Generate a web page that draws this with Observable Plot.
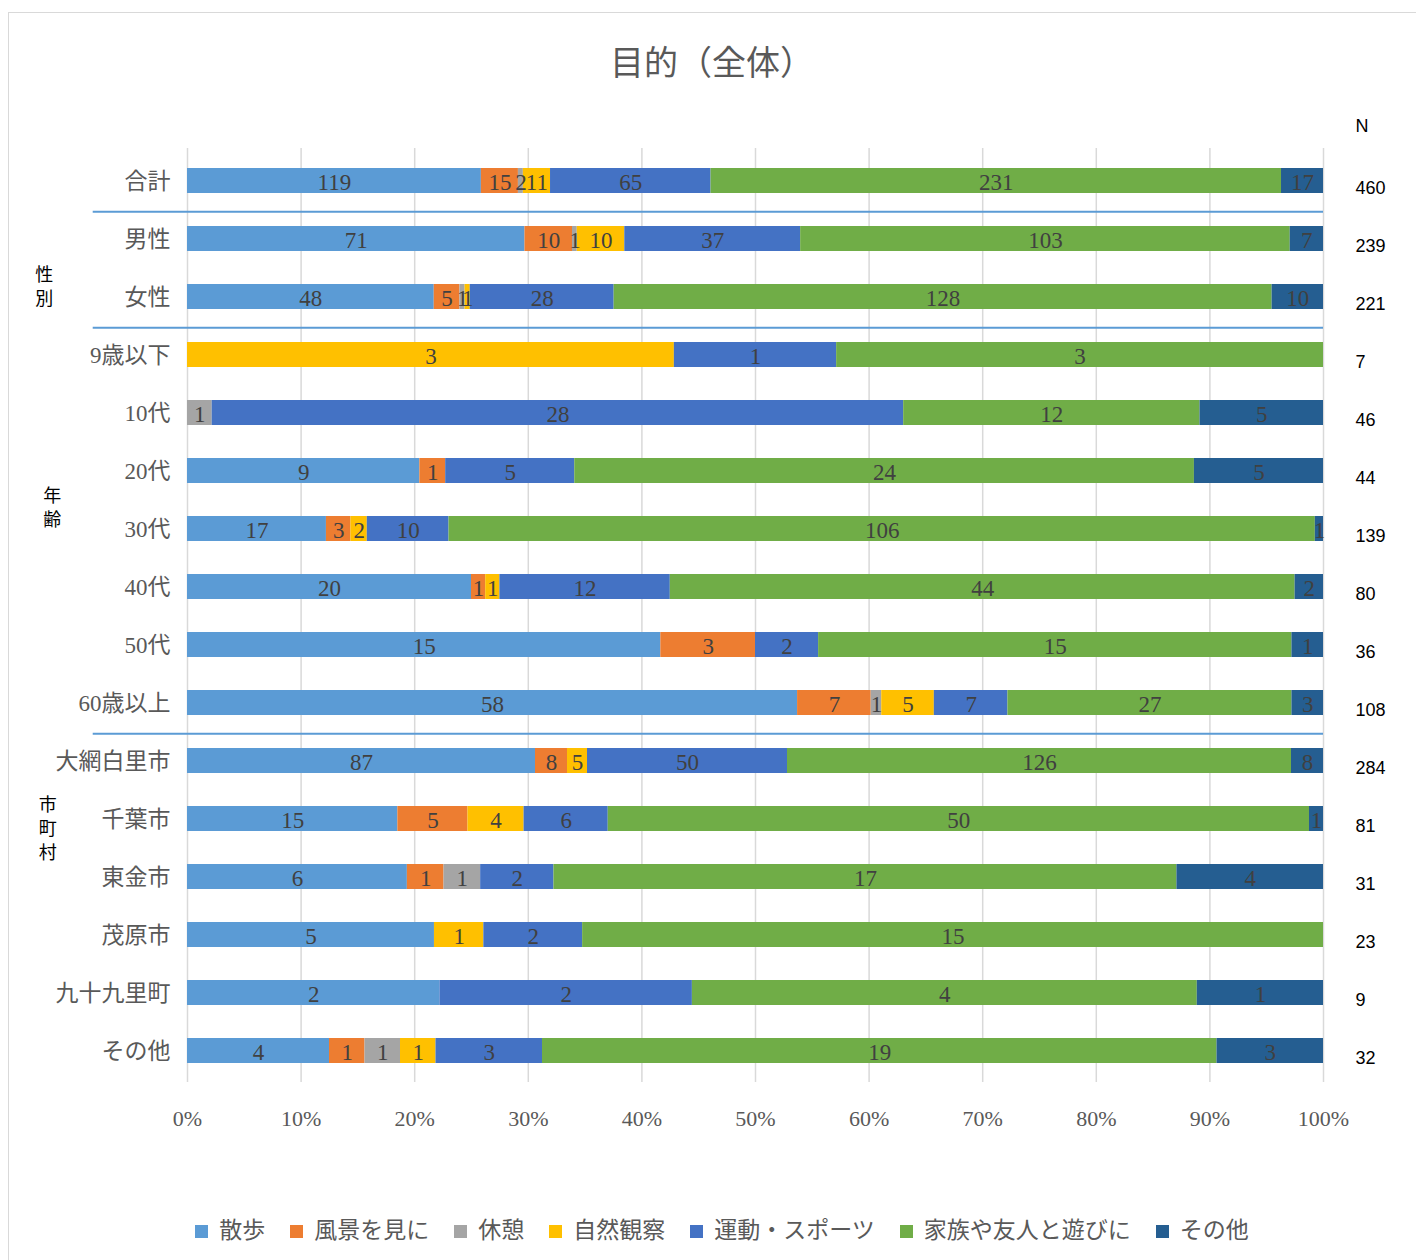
<!DOCTYPE html>
<html><head><meta charset="utf-8">
<script src="https://cdn.jsdelivr.net/npm/d3@7"></script>
<script src="https://cdn.jsdelivr.net/npm/@observablehq/plot@0.6"></script>
<style>
body{margin:0;background:#fff;}
#wrap{position:relative;width:1416px;height:1260px;overflow:hidden;font-family:"Liberation Serif","Noto Sans CJK JP",serif;}
#frame{position:absolute;left:8px;top:12px;width:1430px;height:1280px;border:1px solid #d9d9d9;box-sizing:border-box;}
#title{position:absolute;left:0;width:1424px;top:40px;text-align:center;font-size:34px;color:#595959;line-height:48px;}
#chart{position:absolute;left:0;top:112px;}
#chart svg{display:block;}
#legend{position:absolute;left:0;width:1444px;top:1214px;display:flex;justify-content:center;align-items:center;font-size:23px;color:#595959;line-height:34px;}
.item{display:flex;align-items:center;margin:0 12.5px;}
.sw{width:13px;height:13px;margin-right:11px;}
</style></head>
<body>
<div id="wrap">
  <div id="frame"></div>
  <div id="title">目的（全体）</div>
  <div id="chart"></div>
  <div id="legend"></div>
</div>
<script>
const rows = ["合計","男性","女性","9歳以下","10代","20代","30代","40代","50代","60歳以上","大網白里市","千葉市","東金市","茂原市","九十九里町","その他"];
const series = ["散歩","風景を見に","休憩","自然観察","運動・スポーツ","家族や友人と遊びに","その他"];
const colors = ["#5B9BD5","#ED7D31","#A5A5A5","#FFC000","#4472C4","#70AD47","#255E91"];
const sanpo  = [119,71,48,0,0,9,17,20,15,58,87,15,6,5,2,4];
const fukei  = [15,10,5,0,0,1,3,1,3,7,8,5,1,0,0,1];
const kyukei = [2,1,1,0,1,0,0,0,0,1,0,0,1,0,0,1];
const shizen = [11,10,1,3,0,0,2,1,0,5,5,4,0,1,0,1];
const undo   = [65,37,28,1,28,5,10,12,2,7,50,6,2,2,2,3];
const kazoku = [231,103,128,3,12,24,106,44,15,27,126,50,17,15,4,19];
const sonota = [17,7,10,0,5,5,1,2,1,3,8,1,4,0,1,3];
const nValues = [460,239,221,7,46,44,139,80,36,108,284,81,31,23,9,32];
const xTicks = [0,0.1,0.2,0.3,0.4,0.5,0.6,0.7,0.8,0.9,1];
const separatorsBefore = ["男性","9歳以下","大網白里市"];
const groupLabels = [
  {text:"性\n別", row:"女性", x:-0.126, dy:-12},
  {text:"年\n齢", row:"30代", x:-0.119, dy:-23},
  {text:"市\n町\n村", row:"千葉市", x:-0.123, dy:8}
];

const seriesValues = [sanpo,fukei,kyukei,shizen,undo,kazoku,sonota];
const data = [];
rows.forEach((r,i)=>{
  series.forEach((s,j)=>{ data.push({row:r, series:s, value:seriesValues[j][i]}); });
});
const nTable = rows.map((r,i)=>({row:r, n:nValues[i]}));

const W=1416, H=1040, mt=36, mb=70, ml=187, mr=93;
const step = (H-mt-mb)/rows.length;
const serif = '"Liberation Serif","Noto Sans CJK JP",serif';
const sans = '"Liberation Sans","Noto Sans CJK JP",sans-serif';

const chart = Plot.plot({
  width:W, height:H, marginTop:mt, marginBottom:mb, marginLeft:ml, marginRight:mr,
  style:{fontFamily:serif, color:"#595959", background:"transparent", overflow:"visible"},
  x:{domain:[0,1]},
  y:{domain:rows, paddingInner:0.57, paddingOuter:0.285},
  color:{domain:series, range:colors},
  marks:[
    Plot.ruleX(xTicks,{stroke:"#d9d9d9", strokeWidth:1.5}),
    Plot.barX(data, Plot.stackX({offset:"normalize", x:"value", y:"row", fill:"series"})),
    Plot.text(data.filter(d=>d.value>0), Plot.stackX({offset:"normalize", x:"value", y:"row", text:"value", fill:"#404040", fontSize:23, dy:2})),
    Plot.ruleY(separatorsBefore, {y:d=>d, x1:-0.083, x2:1, dy:-step/2 + 2, stroke:"#5B9BD5", strokeWidth:2}),
    Plot.axisX({ticks:xTicks, tickFormat:d3.format(".0%"), tickSize:0, tickPadding:28, fontSize:22, fill:"#595959", label:null}),
    Plot.axisY({tickSize:0, tickPadding:17, fontSize:23, fill:"#595959", label:null, dy:1}),
    ...groupLabels.map(g => Plot.text([g], {x:"x", y:"row", text:"text", dy:g.dy, fontSize:18, fill:"#000", fontFamily:sans, lineHeight:1.33, textAnchor:"middle"})),
    Plot.text(["N"], {frameAnchor:"top-right", dx:32, dy:-22, textAnchor:"start", lineAnchor:"middle", fontSize:18, fill:"#000", fontFamily:sans}),
    Plot.text(nTable, {y:"row", text:"n", frameAnchor:"right", dx:32, dy:7, textAnchor:"start", fontSize:18, fill:"#000", fontFamily:sans})
  ]
});
document.getElementById("chart").appendChild(chart);

const legend = document.getElementById("legend");
series.forEach((s,j)=>{
  const it = document.createElement("div"); it.className="item";
  const sw = document.createElement("div"); sw.className="sw"; sw.style.background=colors[j];
  const tx = document.createElement("span"); tx.textContent=s;
  it.appendChild(sw); it.appendChild(tx); legend.appendChild(it);
});
</script>
</body></html>
